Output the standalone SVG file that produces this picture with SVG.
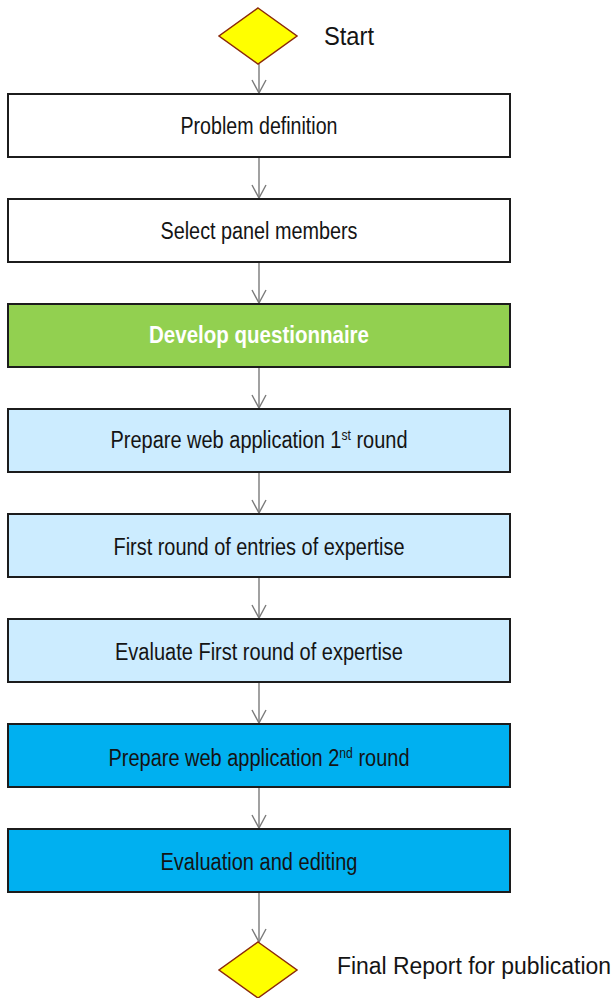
<svg xmlns="http://www.w3.org/2000/svg" width="615" height="998" viewBox="0 0 615 998">
<defs>
<style>
.box{stroke:#1c1c1c;stroke-width:2}
.dia{fill:#FFFF00;stroke:#8B2A0A;stroke-width:1.5}
.lbl{font-family:"Liberation Sans",Arial,sans-serif;font-size:23px;fill:#141414;text-anchor:middle}
.ext{font-family:"Liberation Sans",Arial,sans-serif;font-size:25px;fill:#141414}
.sup{font-size:14px}
.conn{stroke:#7a7a7a;stroke-width:1.4;fill:none}
</style>
<marker id="arr" viewBox="-14 -8 15 16" refX="0" refY="0" markerWidth="15" markerHeight="16" markerUnits="userSpaceOnUse" orient="auto">
<path d="M-13,-7 L0,0 L-13,7" fill="none" stroke="#7a7a7a" stroke-width="1.4"/>
</marker>
</defs>
<rect width="615" height="998" fill="#ffffff"/>
<g id="connectors">
<line class="conn" x1="259" y1="64" x2="259" y2="93" marker-end="url(#arr)"/>
<line class="conn" x1="259" y1="157" x2="259" y2="198" marker-end="url(#arr)"/>
<line class="conn" x1="259" y1="262" x2="259" y2="303" marker-end="url(#arr)"/>
<line class="conn" x1="259" y1="367" x2="259" y2="408" marker-end="url(#arr)"/>
<line class="conn" x1="259" y1="472" x2="259" y2="513" marker-end="url(#arr)"/>
<line class="conn" x1="259" y1="577" x2="259" y2="618" marker-end="url(#arr)"/>
<line class="conn" x1="259" y1="682" x2="259" y2="723" marker-end="url(#arr)"/>
<line class="conn" x1="259" y1="787" x2="259" y2="828" marker-end="url(#arr)"/>
<line class="conn" x1="259" y1="892" x2="259" y2="942" marker-end="url(#arr)"/>
</g>
<g id="start">
<polygon class="dia" points="258,8 297,36 258,64 219,36"/>
<text class="ext" x="324" y="45" textLength="50" lengthAdjust="spacingAndGlyphs">Start</text>
</g>
<g id="n1">
<rect class="box" x="8" y="94" width="502" height="63" fill="#ffffff"/>
<text class="lbl" x="259" y="134" textLength="157" lengthAdjust="spacingAndGlyphs">Problem  definition</text>
</g>
<g id="n2">
<rect class="box" x="8" y="199" width="502" height="63" fill="#ffffff"/>
<text class="lbl" x="259" y="239" textLength="197" lengthAdjust="spacingAndGlyphs">Select  panel  members</text>
</g>
<g id="n3">
<rect class="box" x="8" y="304" width="502" height="63" fill="#92D050"/>
<text class="lbl" x="259" y="343" font-weight="bold" fill="#ffffff" style="fill:#ffffff" textLength="220" lengthAdjust="spacingAndGlyphs">Develop questionnaire</text>
</g>
<g id="n4">
<rect class="box" x="8" y="409" width="502" height="63" fill="#CCECFF"/>
<text class="lbl" x="259" y="448" textLength="297" lengthAdjust="spacingAndGlyphs">Prepare  web  application  1<tspan class="sup" dy="-8">st</tspan><tspan dy="8"> round</tspan></text>
</g>
<g id="n5">
<rect class="box" x="8" y="514" width="502" height="63" fill="#CCECFF"/>
<text class="lbl" x="259" y="555" textLength="291" lengthAdjust="spacingAndGlyphs">First round  of entries of expertise</text>
</g>
<g id="n6">
<rect class="box" x="8" y="619" width="502" height="63" fill="#CCECFF"/>
<text class="lbl" x="259" y="660" textLength="288" lengthAdjust="spacingAndGlyphs">Evaluate  First round of expertise</text>
</g>
<g id="n7">
<rect class="box" x="8" y="724" width="502" height="63" fill="#00B0F0"/>
<text class="lbl" x="259" y="766" textLength="301" lengthAdjust="spacingAndGlyphs">Prepare  web  application  2<tspan class="sup" dy="-8">nd</tspan><tspan dy="8"> round</tspan></text>
</g>
<g id="n8">
<rect class="box" x="8" y="829" width="502" height="63" fill="#00B0F0"/>
<text class="lbl" x="259" y="870" textLength="197" lengthAdjust="spacingAndGlyphs">Evaluation  and  editing</text>
</g>
<g id="end">
<polygon class="dia" points="258,942 297,970 258,998 219,970"/>
<text class="ext" x="337" y="974" font-size="23" style="font-size:23px" textLength="274" lengthAdjust="spacingAndGlyphs">Final Report for publication</text>
</g>
</svg>
